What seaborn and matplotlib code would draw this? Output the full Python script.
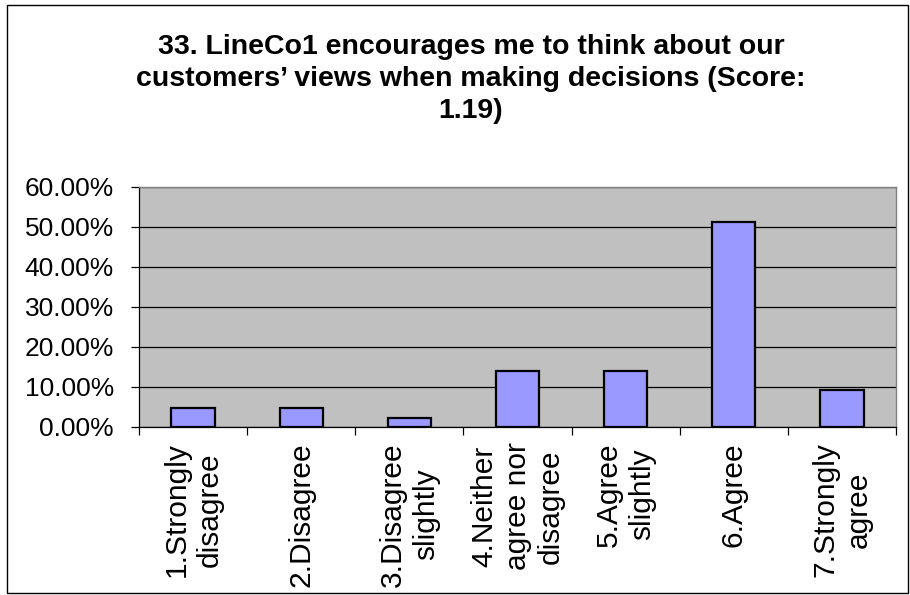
import matplotlib
matplotlib.use("Agg")
import matplotlib.pyplot as plt
import numpy as np
import pandas as pd
import seaborn as sns
from matplotlib.patches import Rectangle
from matplotlib.ticker import PercentFormatter

# Survey item and response distribution
title = ("33. LineCo1 encourages me to think about our\n"
         "customers\u2019 views when making decisions (Score:\n"
         "1.19)")
categories = [
    "1.Strongly\ndisagree",
    "2.Disagree",
    "3.Disagree\nslightly",
    "4.Neither\nagree nor\ndisagree",
    "5.Agree\nslightly",
    "6.Agree",
    "7.Strongly\nagree",
]
shares = [0.0465, 0.0465, 0.0233, 0.1395, 0.1395, 0.5116, 0.0930]
y_ticks = [0.0, 0.1, 0.2, 0.3, 0.4, 0.5, 0.6]

plt.rcParams["font.family"] = ["Liberation Sans", "DejaVu Sans"]

W, H = 910, 595
fig = plt.figure(figsize=(W / 100, H / 100), dpi=100)
fig.patch.set_facecolor("white")

# plot area in pixel terms: left 139, right 896, top 187, bottom 427
ax = fig.add_axes([139 / W, 1 - 427 / H, (896 - 139) / W, (427 - 187) / H])

df = pd.DataFrame({"category": categories, "share": shares})
sns.barplot(data=df, x="category", y="share", color="#9999FF", saturation=1,
            width=0.4, edgecolor="black", linewidth=1.6, ax=ax, zorder=3)

ax.set_facecolor("#C0C0C0")
ax.set_xlim(-0.5, len(categories) - 0.5)
ax.set_ylim(0, 0.6)
ax.set_yticks(y_ticks)
ax.yaxis.set_major_formatter(PercentFormatter(xmax=1, decimals=2))
ax.set_axisbelow(True)
ax.grid(axis="y", color="black", linewidth=0.9)
ax.grid(axis="x", visible=False)
ax.set_xlabel("")
ax.set_ylabel("")

for side in ("top", "right"):
    ax.spines[side].set_color("#808080")
    ax.spines[side].set_linewidth(1.0)
for side in ("left", "bottom"):
    ax.spines[side].set_color("black")
    ax.spines[side].set_linewidth(0.9)

ax.tick_params(axis="y", direction="out", length=6, width=0.9, pad=12,
               labelsize=19, colors="black")
ax.tick_params(axis="x", which="major", length=0, pad=11, labelsize=21.5)
ax.set_xticks(np.arange(-0.5, len(categories)), minor=True)
ax.tick_params(axis="x", which="minor", direction="out", length=5.5, width=0.9)
for lbl in ax.get_xticklabels():
    lbl.set_rotation(90)
    lbl.set_ha("center")
    lbl.set_va("top")
    lbl.set_multialignment("center")
    lbl.set_linespacing(1.25)

fig.text(471 / W, 1 - 34 / H, title, ha="center", va="top", fontsize=20.5,
         fontweight="bold", linespacing=1.3, multialignment="center")

# chart frame
fig.add_artist(Rectangle((7 / W, 2 / H), (907.5 - 7) / W, (593 - 5) / H,
                         transform=fig.transFigure, fill=False,
                         edgecolor="black", linewidth=1.0))

fig.savefig("out.png", dpi=100)
